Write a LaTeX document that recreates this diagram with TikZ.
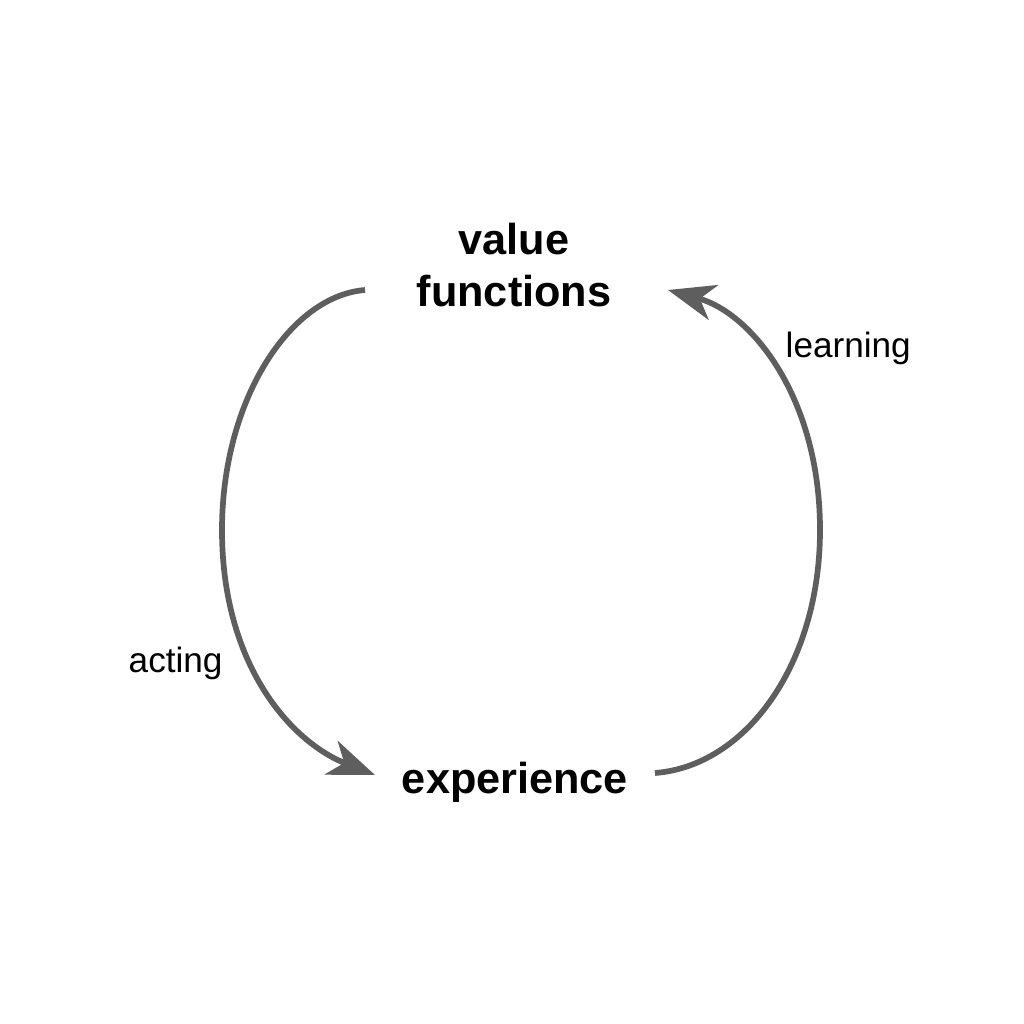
\documentclass[tikz,border=0pt]{standalone}
\usepackage{fontspec}
\setmainfont{Liberation Sans}
\usetikzlibrary{arrows.meta}
\definecolor{cyclegray}{HTML}{5E5E5E}
\begin{document}
\begin{tikzpicture}[x=0.01cm,y=-0.01cm,
  bigtext/.style={font=\fontsize{12.3pt}{14pt}\selectfont\bfseries, inner sep=0pt, anchor=base},
  smalltext/.style={font=\fontsize{10pt}{12pt}\selectfont, inner sep=0pt, anchor=base west},
  cycle/.style={draw=cyclegray, line width=0.057cm,
    -{Stealth[length=0.47cm, width=0.36cm, inset=0.14cm]}}]
  \useasboundingbox[fill=white] (0,0) rectangle (1024,1024);

  % labels
  \node[bigtext] (value) at (514,254) {value};
  \node[bigtext] (func) at (514,306) {functions};
  \node[bigtext] (exp) at (515,793) {experience};
  \node[smalltext] (learn) at (785,357) {learning};
  \node[smalltext] (act) at (128,672) {acting};

  % ends of the two arcs
  \coordinate (lstart) at (365,290);
  \coordinate (lmid) at (222,530);
  \coordinate (lend) at (375,775);
  \coordinate (rstart) at (655,773);
  \coordinate (rmid) at (820,530);
  \coordinate (rend) at (668,290);

  % acting: value functions -> experience
  \draw[cycle] (lstart) .. controls (290,296) and (222,400) .. (lmid)
                        .. controls (222,665) and (291,742) .. (lend);
  % learning: experience -> value functions
  \draw[cycle] (rstart) .. controls (746,766) and (820,664) .. (rmid)
                        .. controls (820,398) and (752,313) .. (rend);
\end{tikzpicture}
\end{document}
